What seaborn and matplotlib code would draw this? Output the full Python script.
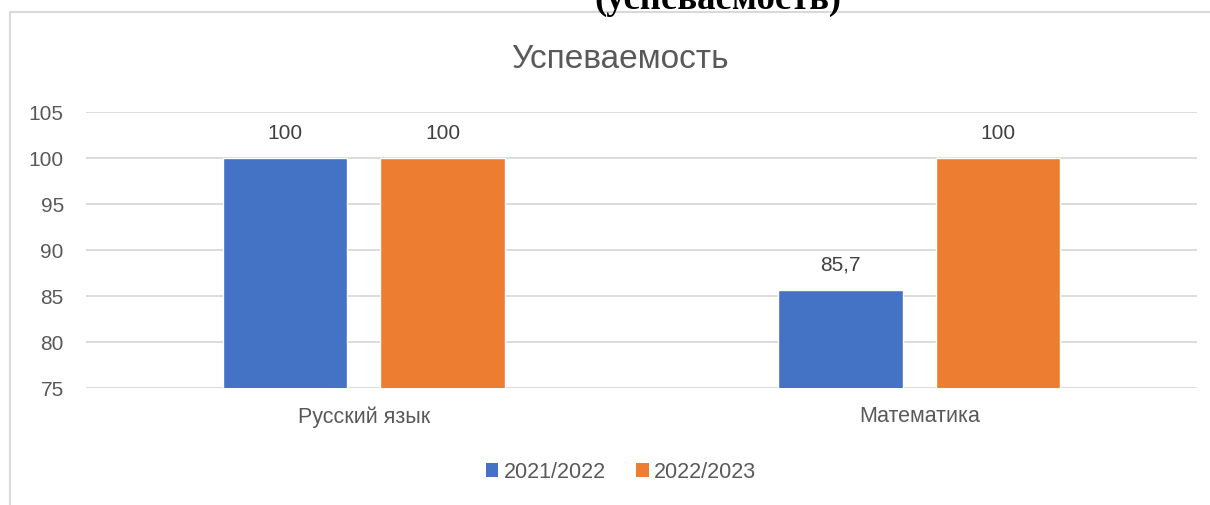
import matplotlib
matplotlib.use("Agg")
import matplotlib.pyplot as plt
from matplotlib.lines import Line2D
from matplotlib.patches import Patch
import seaborn as sns
import pandas as pd

# chart data
subjects = ["Русский язык", "Математика"]
years = ["2021/2022", "2022/2023"]
values_2021 = [100, 85.7]
values_2022 = [100, 100]
colors = ["#4472C4", "#ED7D31"]

rows = []
for i, s in enumerate(subjects):
    rows.append({"subject": s, "year": years[0], "value": values_2021[i]})
    rows.append({"subject": s, "year": years[1], "value": values_2022[i]})
df = pd.DataFrame(rows)

sns.set_style("white")
plt.rcParams["font.family"] = ["Liberation Sans", "DejaVu Sans"]

fig = plt.figure(figsize=(12.1, 5.05), dpi=100)
ax = fig.add_axes([86 / 1210, 1 - 388 / 505, (1197 - 86) / 1210, (388 - 112) / 505])

sns.barplot(data=df, x="subject", y="value", hue="year", order=subjects,
            hue_order=years, palette=colors, saturation=1, width=0.568,
            gap=0.21, legend=False, ax=ax)

ax.set_ylim(75, 105)
ax.set_xlim(-0.5, 1.5)
ax.set_yticks(range(75, 106, 5))
ax.yaxis.grid(True, color="#d9d9d9", linewidth=1.3)
ax.set_axisbelow(True)
for sp in ax.spines.values():
    sp.set_visible(False)
ax.set_xlabel("")
ax.set_ylabel("")
ax.tick_params(axis="x", length=0, pad=13, labelsize=15.5, labelcolor="#595959")
ax.tick_params(axis="y", length=0, pad=16, labelsize=15, labelcolor="#595959")

# value labels with comma decimal
for cont, vals in zip(ax.containers, [values_2021, values_2022]):
    labs = [("%g" % v).replace(".", ",") for v in vals]
    ax.bar_label(cont, labels=labs, padding=11, fontsize=15, color="#404040")

# chart frame (light grey border)
fig.add_artist(Line2D([10 / 1210, 10 / 1210], [0, 1 - 12 / 505], color="#d9d9d9", lw=1.5))
fig.add_artist(Line2D([10 / 1210, 1], [1 - 12 / 505, 1 - 12 / 505], color="#d9d9d9", lw=1.5))

fig.text(620 / 1210, 1 - 60 / 505, "Успеваемость", ha="center", va="center",
         fontsize=24, color="#595959")

# cut-off heading above the chart
fig.text(718 / 1210, 1 - 9 / 505, "(успеваемость)", ha="center", va="baseline",
         fontsize=26.5, fontweight="bold", family=["Liberation Serif", "DejaVu Serif"],
         color="black")

handles = [Patch(facecolor=c, edgecolor="none") for c in colors]
fig.legend(handles, years, loc="center", bbox_to_anchor=(621 / 1210, 1 - 472 / 505),
           ncol=2, frameon=False, fontsize=15.5, handlelength=0.6, handleheight=0.6,
           handletextpad=0.25, columnspacing=1.4, labelcolor="#595959")

fig.savefig("out.png", dpi=100)
